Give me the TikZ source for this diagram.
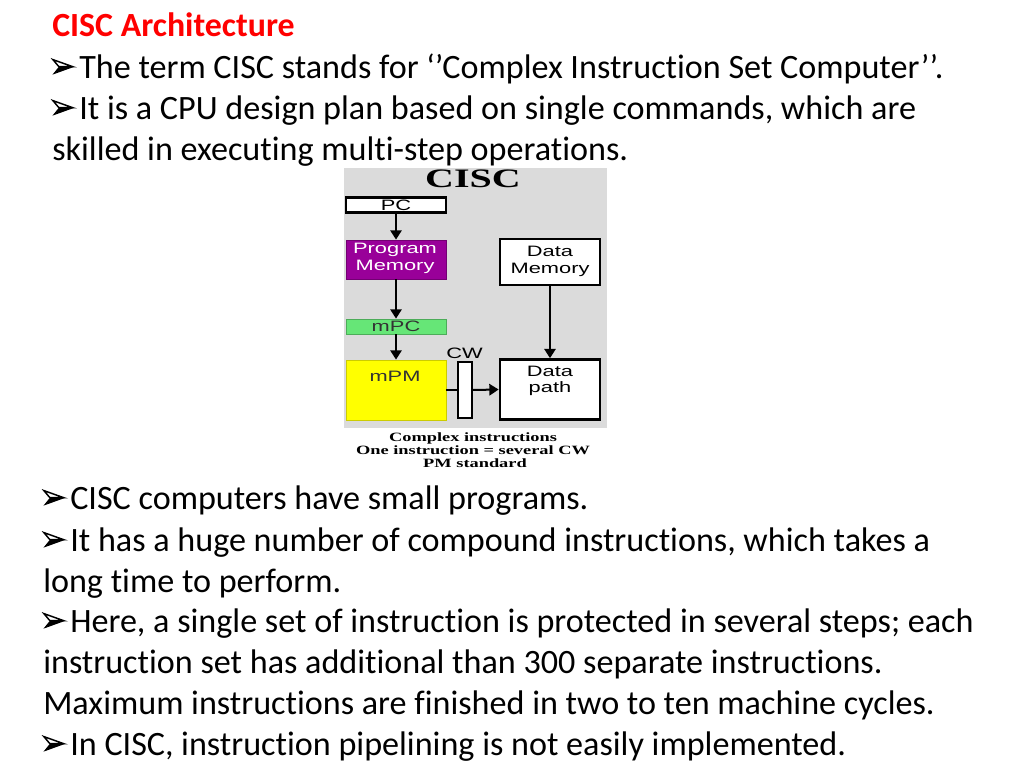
\documentclass[tikz,border=0pt]{standalone}
\usepackage{fontspec}
\setmainfont{Carlito}[Ligatures=NoCommon]
\newfontfamily\arialf{Liberation Sans}
\newfontfamily\timesf{Liberation Serif}
\usetikzlibrary{arrows.meta}
\definecolor{titlered}{HTML}{FF0000}
\definecolor{bggray}{HTML}{DBDBDB}
\definecolor{pmpurple}{HTML}{990099}
\definecolor{mpcgreen}{HTML}{66E677}
\definecolor{mpmyellow}{HTML}{FFFF00}
\newcommand\dtext[1]{\scalebox{1.45}[1]{#1}}
\newcommand\ctext[1]{\scalebox{1.45}[1]{#1}}
\tikzset{
  txt/.style={anchor=base west, inner sep=0pt, font=\fontsize{25.6}{30}\selectfont},
  box/.style={draw=black, line width=2pt, fill=white, inner sep=0pt},
  cbox/.style={inner sep=0pt, line width=0.6pt},
  dlabel/.style={inner sep=0pt, align=center, font=\arialf\fontsize{11.3}{12.4}\selectfont},
  caption/.style={inner sep=0pt, anchor=base, font=\timesf\bfseries\fontsize{9.5}{11}\selectfont},
  arr/.style={line width=1.5pt, -{Triangle[width=8.5pt,length=7pt]}},
  bulletmark/.pic={
    \fill[black] (0.4,-3.3) -- (21.7,-11) -- (6.7,-11) -- cycle;
    \draw[black, line width=1.1pt, line join=miter, fill=white] (0.9,-18.4) -- (20.8,-11.3) -- (6.9,-11.3) -- cycle;
  },
}
\begin{document}
\begin{tikzpicture}[x=0.75pt,y=-0.75pt]
\useasboundingbox (0,0) rectangle (1024,768);
% top text
\node[txt, text=titlered, font=\bfseries\fontsize{25.4}{30}\selectfont] (title) at (52,36) {CISC Architecture};
\pic at (52,78) {bulletmark};
\node[txt] (l1) at (79,78) {The term CISC stands for ‘’Complex Instruction Set Computer’’.};
\pic at (52,119) {bulletmark};
\node[txt] (l2) at (79,119) {It is a CPU design plan based on single commands, which are};
\node[txt] (l3) at (52,160) {skilled in executing multi-step operations.};
% diagram background
\fill[bggray] (344,168) rectangle (607,428);
\begin{scope}
\clip (344,168) rectangle (607,428);
\node[inner sep=0pt, anchor=base, font=\timesf\bfseries\fontsize{20}{24}\selectfont] (cisc) at (473,187) {\scalebox{1.5}[1]{CISC}};
\end{scope}
% boxes
\node[box, minimum width=75pt, minimum height=11.25pt] (pc) at (396,205) {};
\node[dlabel] (pct) at (396,205.5) {\dtext{PC}};
\node[cbox, fill=pmpurple, draw=pmpurple!75!black, minimum width=75pt, minimum height=29.25pt] (pm) at (396,259.5) {};
\node[dlabel, text=white] (pmt) at (395,258.5) {\dtext{Program}\\\dtext{Memory}};
\node[cbox, fill=mpcgreen, draw=mpcgreen!75!black, minimum width=75pt, minimum height=11.25pt] (mpc) at (396,326.5) {};
\node[dlabel, text=black!80] (mpct) at (396,326.5) {\dtext{mPC}};
\node[cbox, fill=mpmyellow, draw=mpmyellow!80!black, minimum width=75pt, minimum height=45pt] (mpm) at (396,390) {};
\node[dlabel, text=black!80] (mpmt) at (395,376) {\dtext{mPM}};
\node[draw=black, line width=1.5pt, fill=white, inner sep=0pt, minimum width=10.5pt, minimum height=42pt] (cw) at (464.5,390) {};
\node[dlabel] (cwt) at (464.5,353) {\dtext{CW}};
\node[box, minimum width=75pt, minimum height=34.5pt] (dm) at (550,262) {};
\node[dlabel] (dmt) at (550,261.5) {\dtext{Data}\\\dtext{Memory}};
\node[box, minimum width=75pt, minimum height=45pt] (dp) at (550,389.5) {};
\node[dlabel] (dpt) at (550,381) {\dtext{Data}\\\dtext{path}};
% connectors
\draw[arr] (pc) -- (pm);
\draw[arr] (pm) -- (mpc);
\draw[arr] (mpc) -- (mpm);
\draw[line width=1pt] (mpm.east) -- (cw.west);
\draw[arr] (cw.east) -- (dp.west);
\draw[arr] (dm) -- (dp);
% caption
\node[caption] (c1) at (473,441) {\ctext{Complex instructions}};
\node[caption] (c2) at (473,454) {\ctext{One instruction = several CW}};
\node[caption] (c3) at (475,467) {\ctext{PM standard}};
% bottom text
\pic at (43,509) {bulletmark};
\node[txt] (b1) at (70,509) {CISC computers have small programs.};
\pic at (43,551) {bulletmark};
\node[txt] (b2) at (70,551) {It has a huge number of compound instructions, which takes a};
\node[txt] (b3) at (43,592) {long time to perform.};
\pic at (43,632) {bulletmark};
\node[txt] (b4) at (70,632) {Here, a single set of instruction is protected in several steps; each};
\node[txt] (b5) at (43,673) {instruction set has additional than 300 separate instructions.};
\node[txt] (b6) at (43,714) {Maximum instructions are finished in two to ten machine cycles.};
\pic at (43,755) {bulletmark};
\node[txt] (b7) at (70,755) {In CISC, instruction pipelining is not easily implemented.};
\end{tikzpicture}
\end{document}
